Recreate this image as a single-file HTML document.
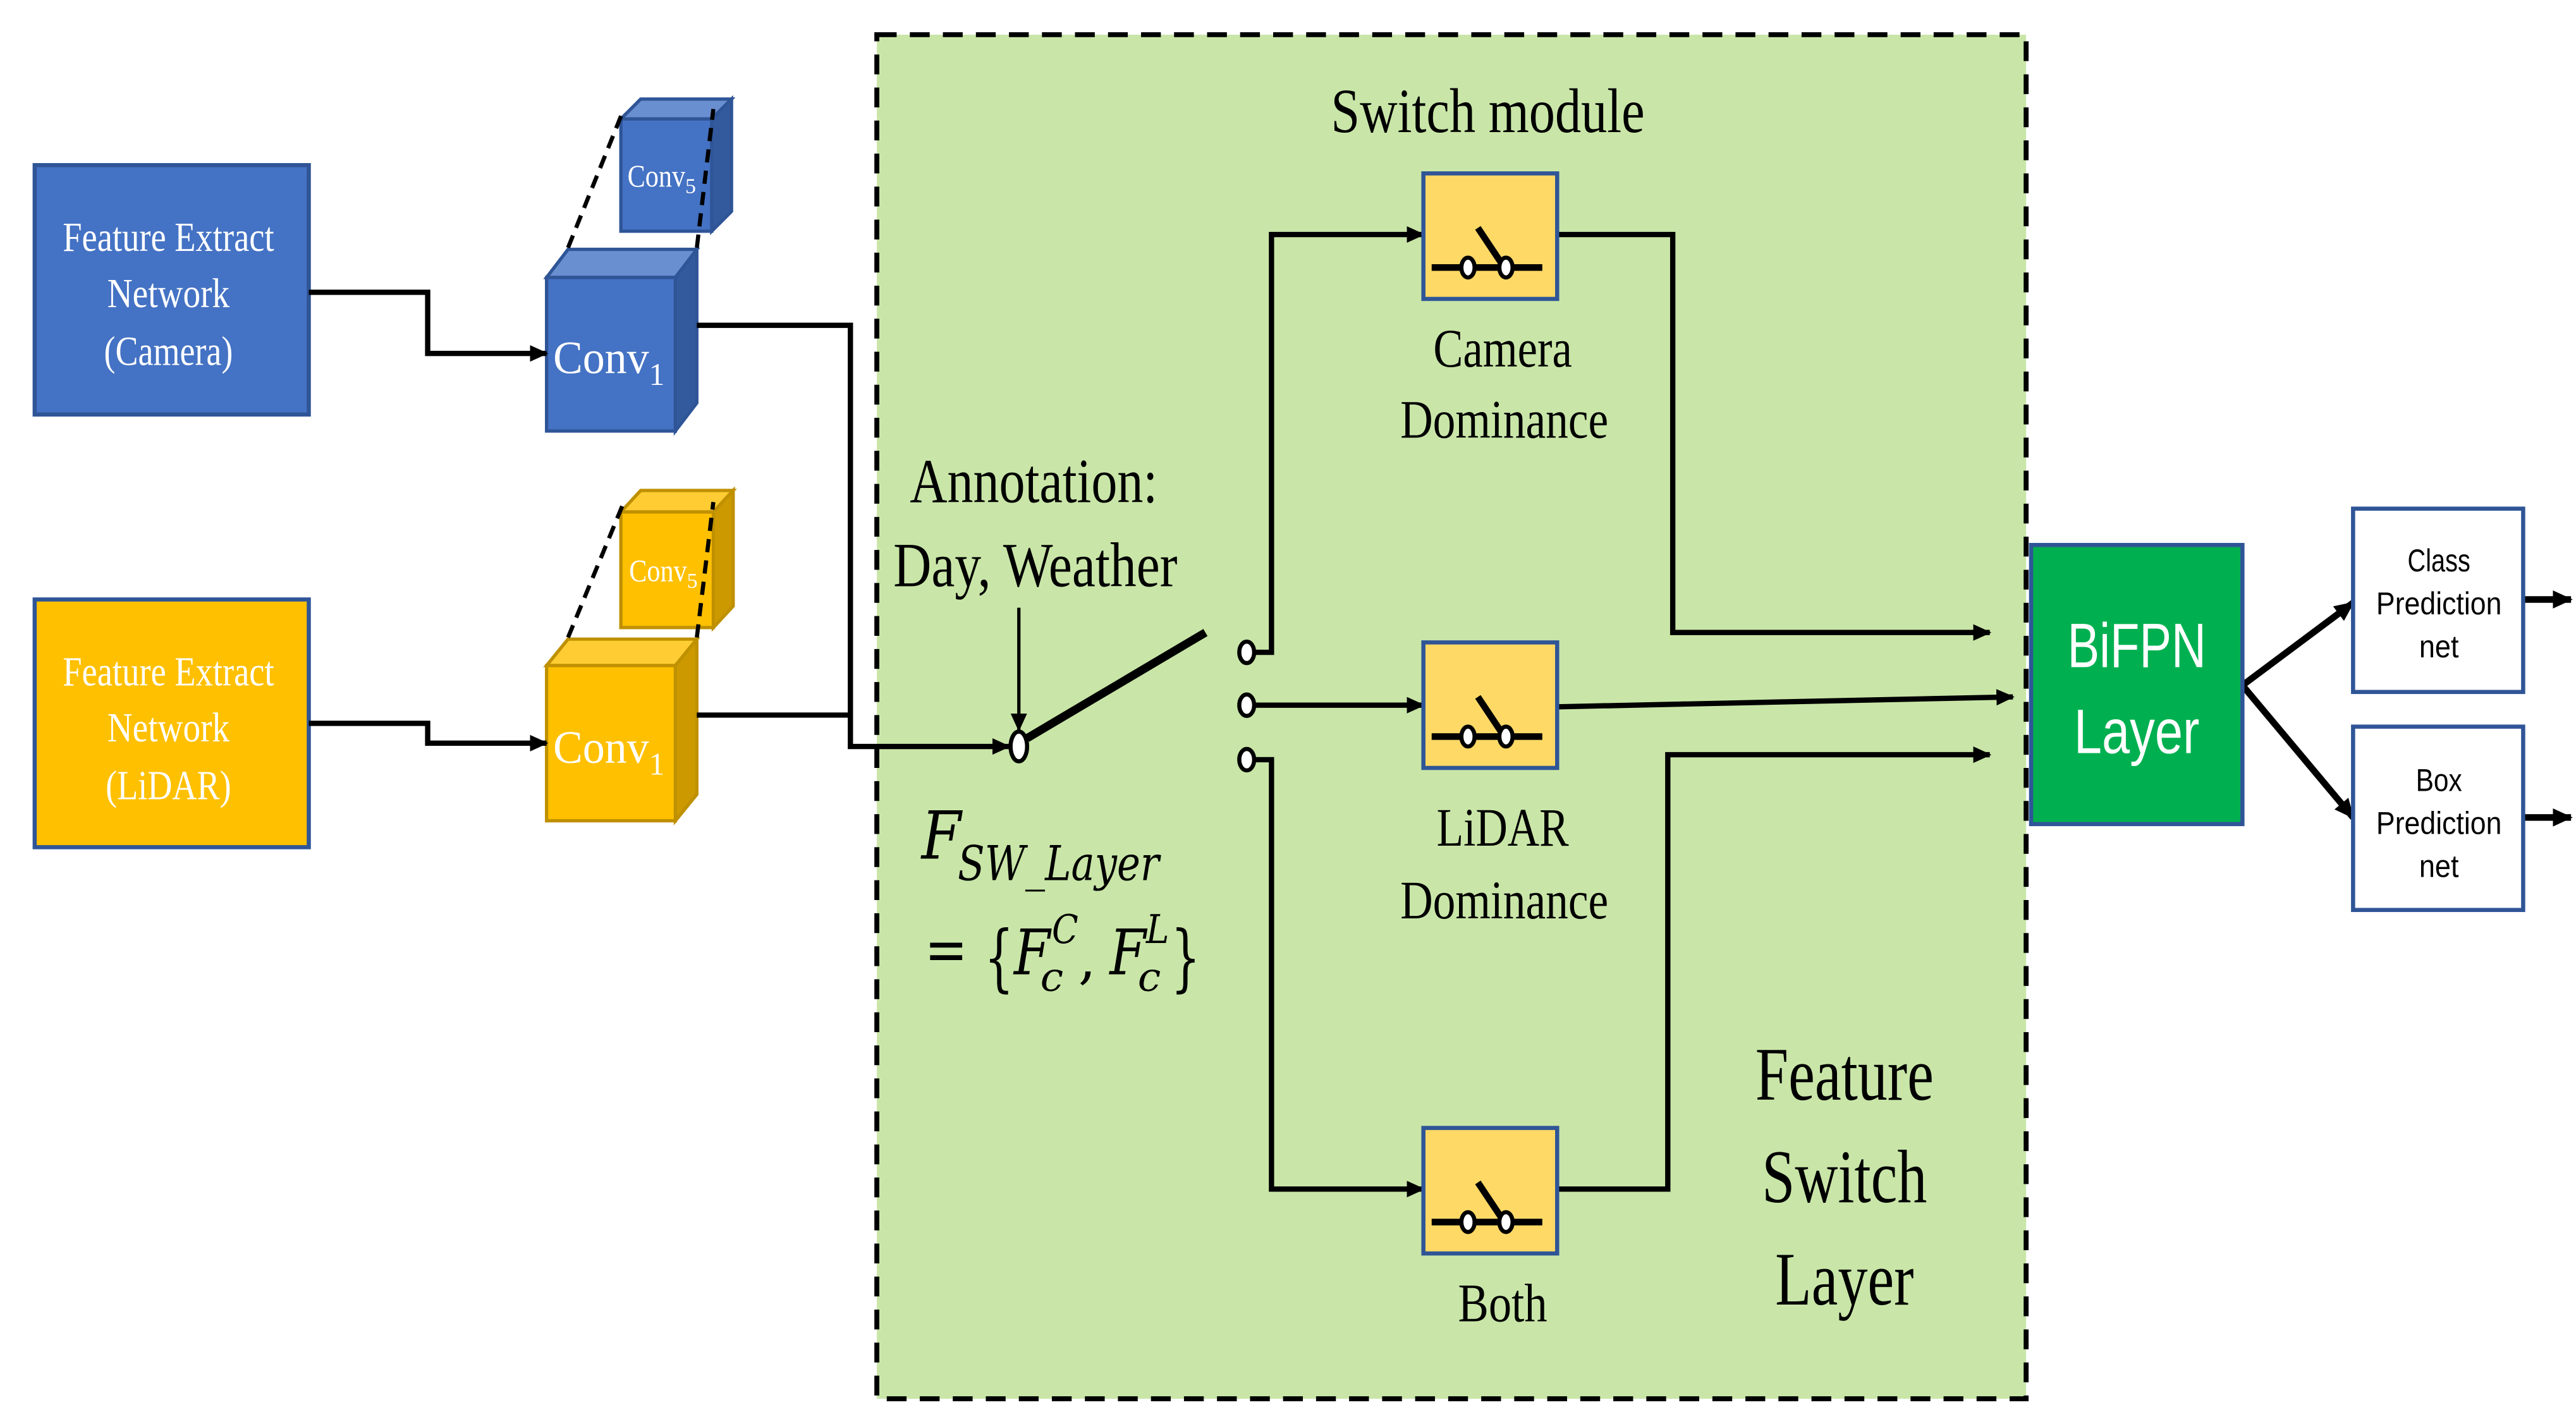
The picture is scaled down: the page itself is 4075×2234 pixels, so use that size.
<!DOCTYPE html>
<html><head><meta charset="utf-8"><style>html,body{margin:0;padding:0;background:#fff}svg{display:block}</style></head>
<body>
<svg width="4075" height="2234" viewBox="0 0 1560 855" preserveAspectRatio="none" xmlns="http://www.w3.org/2000/svg" font-family="Liberation Serif, serif">
<defs>
<marker id="ah" markerWidth="11" markerHeight="10" refX="10" refY="5" orient="auto" markerUnits="userSpaceOnUse"><path d="M0,0 L11,5 L0,10 z" fill="#000"/></marker>
<marker id="ahs" markerWidth="12" markerHeight="11" refX="11" refY="5.5" orient="auto" markerUnits="userSpaceOnUse"><path d="M0,0 L12,5.5 L0,11 z" fill="#000"/></marker>
</defs>
<rect x="0" y="0" width="1560" height="855" fill="#fff"/>
<rect x="531" y="21" width="696" height="826" fill="#c9e6a8" stroke="#000" stroke-width="3" stroke-dasharray="12,8"/>

<rect x="21" y="100" width="166" height="151" fill="#4472c4" stroke="#2f5597" stroke-width="2.5"/>
<g fill="#fff" font-size="25" text-anchor="middle">
<text x="102" y="152" textLength="128" lengthAdjust="spacingAndGlyphs">Feature Extract</text>
<text x="102" y="186" textLength="74" lengthAdjust="spacingAndGlyphs">Network</text>
<text x="102" y="221" textLength="78" lengthAdjust="spacingAndGlyphs">(Camera)</text>
</g>
<rect x="21" y="363" width="166" height="150" fill="#ffc000" stroke="#2f5597" stroke-width="2.5"/>
<g fill="#fff" font-size="25" text-anchor="middle">
<text x="102" y="415" textLength="128" lengthAdjust="spacingAndGlyphs">Feature Extract</text>
<text x="102" y="449" textLength="74" lengthAdjust="spacingAndGlyphs">Network</text>
<text x="102" y="484" textLength="76" lengthAdjust="spacingAndGlyphs">(LiDAR)</text>
</g>

<g stroke="#2f5597" stroke-width="2">
<polygon points="376,72 388,60 443,60 431,72" fill="#6a8fd0"/>
<polygon points="431,72 443,60 443,128 431,140" fill="#345a9e"/>
<rect x="376" y="72" width="55" height="68" fill="#4472c4"/>
<polygon points="331,168 344,151 422,151 409,168" fill="#6a8fd0"/>
<polygon points="409,168 422,151 422,244 409,261" fill="#345a9e"/>
<rect x="331" y="168" width="78" height="93" fill="#4472c4"/>
</g>
<g stroke="#bf9000" stroke-width="2">
<polygon points="376,310 388,297 444,297 432,310" fill="#ffcd33"/>
<polygon points="432,310 444,297 444,367 432,380" fill="#cc9a00"/>
<rect x="376" y="310" width="56" height="70" fill="#ffc000"/>
<polygon points="331,403 344,387 422,387 409,403" fill="#ffcd33"/>
<polygon points="409,403 422,387 422,481 409,497" fill="#cc9a00"/>
<rect x="331" y="403" width="78" height="94" fill="#ffc000"/>
</g>
<g stroke="#000" stroke-width="2.5" stroke-dasharray="8,5" fill="none">
<line x1="344" y1="150" x2="377" y2="68"/>
<line x1="422" y1="150" x2="432" y2="66"/>
<line x1="344" y1="386" x2="377" y2="306"/>
<line x1="422" y1="386" x2="432" y2="304"/>
</g>
<g fill="#fff" font-size="28">
<text x="335" y="226" textLength="58" lengthAdjust="spacingAndGlyphs">Conv</text><text x="393" y="233" font-size="19">1</text>
<text x="335" y="462" textLength="58" lengthAdjust="spacingAndGlyphs">Conv</text><text x="393" y="469" font-size="19">1</text>
<text x="380" y="113" font-size="19" textLength="35" lengthAdjust="spacingAndGlyphs">Conv</text><text x="415" y="117" font-size="13">5</text>
<text x="381" y="352" font-size="19" textLength="35" lengthAdjust="spacingAndGlyphs">Conv</text><text x="416" y="356" font-size="13">5</text>
</g>

<g stroke="#000" stroke-width="3.2" fill="none">
<polyline points="187,177 259,177 259,214 331,214" marker-end="url(#ah)"/>
<polyline points="187,438 259,438 259,450 331,450" marker-end="url(#ah)"/>
<polyline points="422,197 515,197 515,452 611,452" marker-end="url(#ah)"/>
<line x1="422" y1="433" x2="515" y2="433"/>
<line x1="617" y1="368" x2="617" y2="442" stroke-width="2" marker-end="url(#ah)"/>
<line x1="622" y1="447" x2="730" y2="383" stroke-width="5"/>
<polyline points="760,395 770,395 770,142 862,142" marker-end="url(#ah)"/>
<line x1="760" y1="427" x2="862" y2="427" marker-end="url(#ah)"/>
<polyline points="760,460 770,460 770,720 862,720" marker-end="url(#ah)"/>
<polyline points="943,142 1013,142 1013,383 1205,383" marker-end="url(#ah)"/>
<line x1="943" y1="428" x2="1219" y2="422" marker-end="url(#ah)"/>
<polyline points="943,720 1010,720 1010,457 1205,457" marker-end="url(#ah)"/>
<line x1="1358" y1="415" x2="1425" y2="365" stroke-width="4" marker-end="url(#ahs)"/>
<line x1="1358" y1="415" x2="1425" y2="495" stroke-width="4" marker-end="url(#ahs)"/>
<line x1="1528" y1="363" x2="1557" y2="363" stroke-width="4" marker-end="url(#ahs)"/>
<line x1="1528" y1="495" x2="1557" y2="495" stroke-width="4" marker-end="url(#ahs)"/>
</g>
<g fill="#fff" stroke="#000" stroke-width="2.5">
<ellipse cx="617" cy="452" rx="5" ry="9"/>
<ellipse cx="755" cy="395" rx="4.5" ry="6.5"/>
<ellipse cx="755" cy="427" rx="4.5" ry="6.5"/>
<ellipse cx="755" cy="460" rx="4.5" ry="6.5"/>
</g>

<g id="sw">
<rect x="862" y="105" width="81" height="76" fill="#ffd966" stroke="#2f5597" stroke-width="2.5"/>
<line x1="867" y1="162" x2="934" y2="162" stroke="#000" stroke-width="4"/>
<line x1="895" y1="138" x2="911" y2="162" stroke="#000" stroke-width="4"/>
<ellipse cx="889" cy="162" rx="4" ry="6" fill="#fff" stroke="#000" stroke-width="2.5"/>
<ellipse cx="912" cy="162" rx="4" ry="6" fill="#fff" stroke="#000" stroke-width="2.5"/>
</g>
<use href="#sw" transform="translate(0,284)"/>
<use href="#sw" transform="translate(0,578)"/>

<rect x="1230" y="330" width="128" height="169" fill="#00b050" stroke="#2f5597" stroke-width="2.5"/>
<g fill="#fff" font-family="Liberation Sans, sans-serif" font-size="38" text-anchor="middle">
<text x="1294" y="404" textLength="84" lengthAdjust="spacingAndGlyphs">BiFPN</text>
<text x="1294" y="456" textLength="76" lengthAdjust="spacingAndGlyphs">Layer</text>
</g>
<rect x="1425" y="308" width="103" height="111" fill="#fff" stroke="#2f5597" stroke-width="2.5"/>
<rect x="1425" y="440" width="103" height="111" fill="#fff" stroke="#2f5597" stroke-width="2.5"/>
<g fill="#000" font-family="Liberation Sans, sans-serif" font-size="19" text-anchor="middle">
<text x="1477" y="346" textLength="38" lengthAdjust="spacingAndGlyphs">Class</text>
<text x="1477" y="372" textLength="76" lengthAdjust="spacingAndGlyphs">Prediction</text>
<text x="1477" y="398" textLength="24" lengthAdjust="spacingAndGlyphs">net</text>
<text x="1477" y="479" textLength="28" lengthAdjust="spacingAndGlyphs">Box</text>
<text x="1477" y="505" textLength="76" lengthAdjust="spacingAndGlyphs">Prediction</text>
<text x="1477" y="531" textLength="24" lengthAdjust="spacingAndGlyphs">net</text>
</g>

<g fill="#000" text-anchor="middle">
<text x="901" y="80" font-size="38" textLength="190" lengthAdjust="spacingAndGlyphs">Switch module</text>
<text x="910" y="222" font-size="33" textLength="84" lengthAdjust="spacingAndGlyphs">Camera</text>
<text x="911" y="265" font-size="33" textLength="126" lengthAdjust="spacingAndGlyphs">Dominance</text>
<text x="910" y="512" font-size="33" textLength="80" lengthAdjust="spacingAndGlyphs">LiDAR</text>
<text x="911" y="556" font-size="33" textLength="126" lengthAdjust="spacingAndGlyphs">Dominance</text>
<text x="910" y="800" font-size="33" textLength="54" lengthAdjust="spacingAndGlyphs">Both</text>
<text x="626" y="304" font-size="38" textLength="150" lengthAdjust="spacingAndGlyphs">Annotation:</text>
<text x="627" y="355" font-size="38" textLength="172" lengthAdjust="spacingAndGlyphs">Day, Weather</text>
<text x="1117" y="666" font-size="46" textLength="108" lengthAdjust="spacingAndGlyphs">Feature</text>
<text x="1117" y="728" font-size="46" textLength="100" lengthAdjust="spacingAndGlyphs">Switch</text>
<text x="1117" y="790" font-size="46" textLength="84" lengthAdjust="spacingAndGlyphs">Layer</text>
</g>
<g fill="#000" font-family="DejaVu Serif, serif" font-style="italic">
<text x="558" y="520" font-size="40" textLength="24" lengthAdjust="spacingAndGlyphs">F</text>
<text x="580" y="533" font-size="29" textLength="122" lengthAdjust="spacingAndGlyphs">SW_Layer</text>
<text x="560" y="588" font-size="38" font-style="normal" textLength="26" lengthAdjust="spacingAndGlyphs">=</text>
<text x="596" y="595" font-size="44" font-style="normal" textLength="18" lengthAdjust="spacingAndGlyphs">{</text>
<text x="614" y="590" font-size="38" textLength="22" lengthAdjust="spacingAndGlyphs">F</text>
<text x="637" y="571" font-size="24" textLength="16" lengthAdjust="spacingAndGlyphs">C</text>
<text x="630" y="600" font-size="24" textLength="14" lengthAdjust="spacingAndGlyphs">c</text>
<text x="653" y="592" font-size="34" font-style="normal">,</text>
<text x="672" y="590" font-size="38" textLength="22" lengthAdjust="spacingAndGlyphs">F</text>
<text x="694" y="571" font-size="24" textLength="14" lengthAdjust="spacingAndGlyphs">L</text>
<text x="689" y="600" font-size="24" textLength="14" lengthAdjust="spacingAndGlyphs">c</text>
<text x="709" y="595" font-size="44" font-style="normal" textLength="18" lengthAdjust="spacingAndGlyphs">}</text>
</g>
</svg>
</body></html>
